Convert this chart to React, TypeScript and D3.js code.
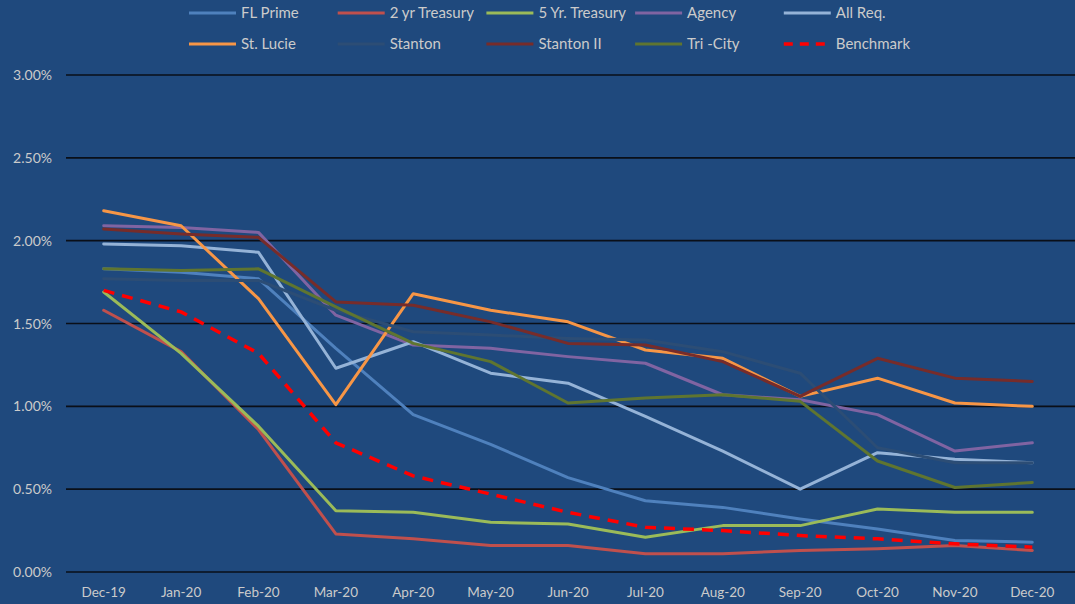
import React, { useEffect, useRef } from "react";
import * as d3 from "d3";

const months = ["Dec-19", "Jan-20", "Feb-20", "Mar-20", "Apr-20", "May-20", "Jun-20", "Jul-20", "Aug-20", "Sep-20", "Oct-20", "Nov-20", "Dec-20"];
const yTicks = [0, 0.5, 1, 1.5, 2, 2.5, 3];

const flPrime = [1.83, 1.81, 1.77, 1.35, 0.95, 0.77, 0.57, 0.43, 0.39, 0.32, 0.26, 0.19, 0.18];
const twoYr = [1.58, 1.33, 0.86, 0.23, 0.2, 0.16, 0.16, 0.11, 0.11, 0.13, 0.14, 0.16, 0.13];
const fiveYr = [1.69, 1.32, 0.88, 0.37, 0.36, 0.3, 0.29, 0.21, 0.28, 0.28, 0.38, 0.36, 0.36];
const agency = [2.09, 2.08, 2.05, 1.55, 1.37, 1.35, 1.3, 1.26, 1.07, 1.04, 0.95, 0.73, 0.78];
const allReq = [1.98, 1.97, 1.93, 1.23, 1.39, 1.2, 1.14, 0.94, 0.73, 0.5, 0.72, 0.68, 0.66];
const stLucie = [2.18, 2.09, 1.65, 1.01, 1.68, 1.58, 1.51, 1.34, 1.29, 1.06, 1.17, 1.02, 1.0];
const stanton = [1.77, 1.76, 1.76, 1.58, 1.45, 1.43, 1.41, 1.4, 1.33, 1.2, 0.75, 0.66, 0.66];
const stantonII = [2.07, 2.04, 2.02, 1.63, 1.61, 1.51, 1.38, 1.37, 1.27, 1.06, 1.29, 1.17, 1.15];
const triCity = [1.83, 1.82, 1.83, 1.6, 1.38, 1.27, 1.02, 1.05, 1.07, 1.03, 0.67, 0.51, 0.54];
const benchmark = [1.7, 1.57, 1.32, 0.78, 0.58, 0.47, 0.36, 0.27, 0.25, 0.22, 0.2, 0.17, 0.15];

const seriesNames = ["FL Prime", "2 yr Treasury", "5 Yr. Treasury", "Agency", "All Req.", "St. Lucie", "Stanton", "Stanton II", "Tri -City", "Benchmark"];
const seriesValues = [flPrime, twoYr, fiveYr, agency, allReq, stLucie, stanton, stantonII, triCity, benchmark];
const seriesColors = ["#4F81BD", "#C0504D", "#9BBB59", "#8064A2", "#95B3D7", "#F79646", "#2C4D75", "#772C2A", "#5F7530", "#FF0000"];

export default function App() {
  const ref = useRef<SVGSVGElement | null>(null);

  useEffect(() => {
    if (!ref.current) return;
    const W = 1075, H = 604;
    const font = "Lato, 'Open Sans', sans-serif";
    const textColor = "#CBCBCB";

    const svg = d3.select(ref.current);
    svg.selectAll("*").remove();
    svg.attr("width", W).attr("height", H);

    svg.append("rect").attr("width", W).attr("height", H).attr("fill", "#1F497D");

    const x = d3.scaleBand<string>().domain(months).range([65, 1071]);
    const y = d3.scaleLinear().domain([0, 3]).range([572, 75]);

    // gridlines
    svg.selectAll(".grid")
      .data(yTicks)
      .enter().append("line")
      .attr("x1", 66).attr("x2", W)
      .attr("y1", d => y(d)).attr("y2", d => y(d))
      .attr("stroke", "#0A0F18")
      .attr("stroke-width", 1.6);

    // y labels
    svg.selectAll(".ylab")
      .data(yTicks)
      .enter().append("text")
      .attr("x", 52)
      .attr("y", d => y(d) + 5)
      .attr("text-anchor", "end")
      .attr("font-family", font)
      .attr("font-size", 14)
      .attr("fill", textColor)
      .text(d => d3.format(".2f")(d) + "%");

    // x labels
    svg.selectAll(".xlab")
      .data(months)
      .enter().append("text")
      .attr("x", d => (x(d) as number) + x.bandwidth() / 2)
      .attr("y", 597)
      .attr("text-anchor", "middle")
      .attr("font-family", font)
      .attr("font-size", 13.5)
      .attr("fill", textColor)
      .text(d => d);

    const line = d3.line<number>()
      .x((_, i) => (x(months[i]) as number) + x.bandwidth() / 2)
      .y(d => y(d));

    seriesValues.forEach((vals, i) => {
      const isBench = i === seriesValues.length - 1;
      svg.append("path")
        .datum(vals)
        .attr("d", line)
        .attr("fill", "none")
        .attr("stroke", seriesColors[i])
        .attr("stroke-width", isBench ? 3.5 : 3)
        .attr("stroke-linejoin", "round")
        .attr("stroke-linecap", isBench ? "butt" : "round")
        .attr("stroke-dasharray", isBench ? "11,8" : null);
    });

    // legend
    const legend = svg.append("g");
    seriesNames.forEach((name, i) => {
      const col = i % 5, row = Math.floor(i / 5);
      const lx = 189 + col * 148.7;
      const ly = row === 0 ? 13 : 44;
      const isBench = i === seriesNames.length - 1;
      legend.append("line")
        .attr("x1", lx).attr("x2", lx + 47)
        .attr("y1", ly).attr("y2", ly)
        .attr("stroke", seriesColors[i])
        .attr("stroke-width", isBench ? 3.5 : 3)
        .attr("stroke-dasharray", isBench ? "9,7" : null);
      legend.append("text")
        .attr("x", lx + 52)
        .attr("y", ly + 5)
        .attr("font-family", font)
        .attr("font-size", 15)
        .attr("fill", textColor)
        .text(name);
    });
  }, []);

  return <svg ref={ref} style={{ position: "absolute", left: 0, top: 0, display: "block" }} />;
}
